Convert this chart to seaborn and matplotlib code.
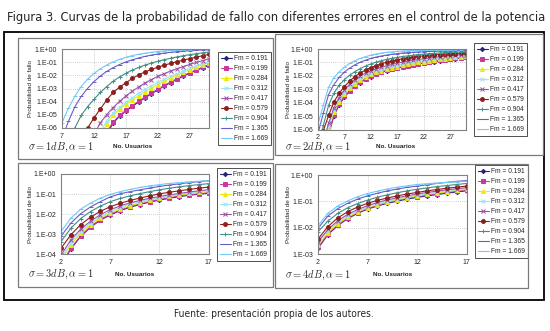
import numpy as np
import pandas as pd
import matplotlib
matplotlib.use("Agg")
import matplotlib.pyplot as plt
import seaborn as sns
from matplotlib.ticker import FixedLocator, FuncFormatter, NullLocator
from matplotlib.patches import Rectangle
from matplotlib.lines import Line2D

# ---------------- data (log10 of outage probability) ----------
fm_labels = ["0.191", "0.199", "0.284", "0.312", "0.417", "0.579", "0.904", "1.365", "1.669"]

x_sigma1 = list(range(7, 31))
logP_sigma1 = [
    [-15.5, -14.5, -13.5, -12, -10.5, -9.1, -7.8, -6.5, -5.62, -5.11, -4.71, -4.36, -4.02, -3.7, -3.4, -3.1, -2.82, -2.55, -2.3, -2.06, -1.84, -1.63, -1.43, -1.25],
    [-15, -14, -13, -11.5, -10, -8.7, -7.5, -6.3, -5.55, -5.05, -4.65, -4.3, -3.97, -3.65, -3.35, -3.05, -2.77, -2.5, -2.25, -2.01, -1.79, -1.58, -1.38, -1.2],
    [-14, -13, -12, -10.5, -9.2, -8, -6.6, -5.7, -5.05, -4.58, -4.2, -3.85, -3.54, -3.24, -2.96, -2.7, -2.45, -2.21, -1.98, -1.77, -1.57, -1.38, -1.2, -1.04],
    [-13.5, -12.5, -11.5, -10, -8.8, -7.6, -6.3, -5.45, -4.85, -4.42, -4.05, -3.7, -3.36, -3.05, -2.78, -2.53, -2.3, -2.08, -1.87, -1.67, -1.48, -1.3, -1.12, -0.95],
    [-12, -11, -10, -8.8, -7.6, -6.5, -5.6, -4.98, -4.45, -3.98, -3.56, -3.2, -2.88, -2.58, -2.32, -2.08, -1.87, -1.68, -1.5, -1.33, -1.17, -1.02, -0.88, -0.75],
    [-10.5, -9.3, -8.1, -7.0, -6.0, -5.24, -4.55, -3.87, -3.3, -2.9, -2.56, -2.24, -1.96, -1.74, -1.55, -1.38, -1.23, -1.09, -0.96, -0.84, -0.73, -0.62, -0.51, -0.41],
    [-8.8, -7.3, -6.0, -5.05, -4.38, -3.82, -3.3, -2.85, -2.45, -2.12, -1.85, -1.6, -1.4, -1.22, -1.07, -0.93, -0.81, -0.7, -0.6, -0.51, -0.43, -0.36, -0.29, -0.23],
    [-6.8, -5.5, -4.4, -3.6, -3.0, -2.48, -2.05, -1.7, -1.42, -1.18, -0.98, -0.82, -0.68, -0.56, -0.46, -0.38, -0.31, -0.25, -0.2, -0.16, -0.12, -0.09, -0.07, -0.05],
    [-5.6, -4.5, -3.6, -2.85, -2.3, -1.86, -1.5, -1.22, -0.98, -0.79, -0.63, -0.5, -0.4, -0.32, -0.25, -0.19, -0.15, -0.11, -0.08, -0.06, -0.04, -0.03, -0.02, -0.01],
]

x_sigma2 = list(range(2, 31))
logP_sigma2 = [
    [-10.3, -8.2, -6.4, -5.0, -4.17, -3.58, -3.14, -2.78, -2.5, -2.26, -2.05, -1.88, -1.74, -1.62, -1.52, -1.43, -1.34, -1.26, -1.19, -1.12, -1.06, -1.0, -0.94, -0.88, -0.82, -0.77, -0.72, -0.67, -0.63],
    [-10, -8, -6.3, -4.95, -4.13, -3.54, -3.1, -2.74, -2.46, -2.22, -2.02, -1.85, -1.71, -1.59, -1.49, -1.4, -1.31, -1.23, -1.16, -1.09, -1.03, -0.97, -0.91, -0.85, -0.79, -0.74, -0.69, -0.64, -0.6],
    [-9.5, -7.5, -5.95, -4.68, -3.92, -3.37, -2.93, -2.58, -2.3, -2.08, -1.9, -1.74, -1.61, -1.5, -1.4, -1.31, -1.22, -1.14, -1.07, -1.0, -0.95, -0.89, -0.83, -0.78, -0.73, -0.68, -0.63, -0.59, -0.55],
    [-9.2, -7.2, -5.75, -4.55, -3.8, -3.25, -2.8, -2.45, -2.18, -1.96, -1.78, -1.63, -1.5, -1.39, -1.29, -1.2, -1.12, -1.05, -0.98, -0.92, -0.87, -0.81, -0.75, -0.7, -0.65, -0.61, -0.57, -0.53, -0.5],
    [-8.8, -6.9, -5.55, -4.38, -3.62, -3.05, -2.62, -2.28, -2.02, -1.8, -1.63, -1.48, -1.36, -1.25, -1.15, -1.06, -0.98, -0.91, -0.84, -0.78, -0.73, -0.68, -0.63, -0.58, -0.54, -0.5, -0.47, -0.44, -0.41],
    [-8.0, -6.1, -4.95, -3.95, -3.3, -2.8, -2.38, -2.05, -1.78, -1.56, -1.38, -1.23, -1.1, -0.98, -0.88, -0.8, -0.73, -0.66, -0.6, -0.55, -0.51, -0.47, -0.44, -0.41, -0.38, -0.36, -0.34, -0.32, -0.3],
    [-7.2, -5.7, -4.2, -3.3, -2.7, -2.28, -1.95, -1.68, -1.46, -1.27, -1.11, -0.98, -0.87, -0.77, -0.69, -0.62, -0.56, -0.51, -0.46, -0.42, -0.38, -0.35, -0.32, -0.3, -0.27, -0.25, -0.23, -0.22, -0.2],
    [-6.3, -4.8, -3.4, -2.66, -2.12, -1.72, -1.42, -1.18, -0.98, -0.83, -0.7, -0.6, -0.52, -0.45, -0.39, -0.34, -0.3, -0.27, -0.24, -0.22, -0.2, -0.18, -0.17, -0.15, -0.14, -0.13, -0.12, -0.11, -0.1],
    [-5.6, -4.2, -2.85, -2.15, -1.7, -1.36, -1.08, -0.87, -0.7, -0.57, -0.46, -0.37, -0.3, -0.25, -0.21, -0.18, -0.15, -0.13, -0.11, -0.1, -0.09, -0.08, -0.07, -0.06, -0.05, -0.05, -0.04, -0.04, -0.03],
]

x_sigma3 = list(range(2, 18))
logP_sigma3 = [
    [-4.55, -3.74, -3.11, -2.65, -2.3, -2.04, -1.83, -1.66, -1.52, -1.4, -1.3, -1.21, -1.13, -1.06, -1.01, -0.96],
    [-4.5, -3.7, -3.08, -2.62, -2.27, -2.01, -1.8, -1.63, -1.49, -1.37, -1.27, -1.18, -1.1, -1.03, -0.98, -0.93],
    [-4.3, -3.53, -2.95, -2.52, -2.19, -1.94, -1.74, -1.58, -1.44, -1.32, -1.21, -1.12, -1.04, -0.97, -0.92, -0.87],
    [-4.2, -3.42, -2.86, -2.45, -2.12, -1.87, -1.67, -1.51, -1.38, -1.27, -1.17, -1.09, -1.01, -0.94, -0.88, -0.83],
    [-4.05, -3.28, -2.75, -2.35, -2.03, -1.78, -1.59, -1.44, -1.32, -1.21, -1.12, -1.04, -0.97, -0.9, -0.84, -0.78],
    [-3.7, -3.03, -2.52, -2.15, -1.86, -1.63, -1.46, -1.32, -1.2, -1.09, -0.99, -0.91, -0.84, -0.77, -0.71, -0.65],
    [-3.37, -2.7, -2.22, -1.87, -1.6, -1.38, -1.22, -1.09, -0.98, -0.88, -0.79, -0.71, -0.64, -0.58, -0.53, -0.48],
    [-3.1, -2.45, -1.98, -1.64, -1.38, -1.14, -0.99, -0.88, -0.79, -0.7, -0.62, -0.55, -0.49, -0.43, -0.38, -0.33],
    [-2.87, -2.2, -1.75, -1.45, -1.2, -1.02, -0.88, -0.77, -0.67, -0.59, -0.53, -0.47, -0.43, -0.39, -0.36, -0.33],
]

x_sigma4 = list(range(2, 18))
logP_sigma4 = [
    [-2.77, -2.26, -1.91, -1.65, -1.45, -1.29, -1.17, -1.07, -0.99, -0.91, -0.85, -0.79, -0.74, -0.69, -0.64, -0.6],
    [-2.74, -2.23, -1.88, -1.62, -1.42, -1.26, -1.14, -1.04, -0.96, -0.88, -0.82, -0.76, -0.71, -0.66, -0.61, -0.57],
    [-2.65, -2.18, -1.84, -1.59, -1.4, -1.24, -1.12, -1.02, -0.93, -0.86, -0.79, -0.73, -0.68, -0.63, -0.58, -0.54],
    [-2.6, -2.12, -1.79, -1.55, -1.36, -1.21, -1.09, -0.99, -0.9, -0.83, -0.76, -0.7, -0.65, -0.6, -0.55, -0.51],
    [-2.52, -2.06, -1.73, -1.49, -1.31, -1.16, -1.04, -0.94, -0.86, -0.79, -0.72, -0.66, -0.61, -0.56, -0.52, -0.48],
    [-2.42, -1.95, -1.62, -1.39, -1.21, -1.07, -0.96, -0.87, -0.79, -0.72, -0.66, -0.6, -0.55, -0.5, -0.46, -0.42],
    [-2.15, -1.74, -1.45, -1.24, -1.08, -0.95, -0.84, -0.75, -0.67, -0.6, -0.54, -0.49, -0.44, -0.4, -0.36, -0.32],
    [-2.02, -1.55, -1.27, -1.07, -0.91, -0.79, -0.69, -0.6, -0.53, -0.47, -0.42, -0.37, -0.32, -0.28, -0.24, -0.21],
    [-1.92, -1.45, -1.17, -0.98, -0.82, -0.7, -0.61, -0.53, -0.46, -0.41, -0.36, -0.33, -0.3, -0.28, -0.26, -0.24],
]

title_text = "Figura 3. Curvas de la probabilidad de fallo con diferentes errores en el control de la potencia"
footer_text = "Fuente: presentación propia de los autores."
ylabel_text = "Probabilidad de fallo"
xlabel_text = "No. Usuarios"
sigma_texts = [r"$\sigma = 1dB,\alpha = 1$", r"$\sigma = 2dB,\alpha = 1$",
               r"$\sigma = 3dB,\alpha = 1$", r"$\sigma = 4dB,\alpha = 1$"]

# ---------------- style ----------------
sns.set_style("white")
plt.rcParams["font.family"] = ["Liberation Sans", "DejaVu Sans"]
plt.rcParams["mathtext.fontset"] = "cm"

colors = ["#23237a", "#c8389e", "#ecec00", "#9fe3f3", "#9a52a6", "#8e1e1e", "#3f8f86", "#6a5cc8", "#6fcaf6"]
markers = ["D", "s", "^", "x", "x", "o", "+", "_", "_"]
msizes = [2.2, 2.6, 2.8, 3.0, 3.0, 2.8, 3.2, 3.2, 3.2]
series_names = ["Fm = " + f for f in fm_labels]

W, H = 550, 331
fig = plt.figure(figsize=(W / 100, H / 100), dpi=100)
fig.patch.set_facecolor("white")


def rect_px(l, t, r, b, **kw):
    fig.add_artist(Rectangle((l / W, 1 - b / H), (r - l) / W, (b - t) / H,
                             transform=fig.transFigure, fill=False, **kw))


# frames
rect_px(4, 32, 544, 300, ec="black", lw=1.3)
rect_px(18, 38, 273, 159, ec="#7a7a7a", lw=0.9)
rect_px(275, 34, 543, 155, ec="#7a7a7a", lw=0.9)
rect_px(18, 163, 273, 287, ec="#7a7a7a", lw=0.9)
rect_px(275, 164, 528, 288, ec="#7a7a7a", lw=0.9)

panels = [
    dict(x=x_sigma1, logp=logP_sigma1, box=(62, 49, 209, 128), xlim=(7, 30), ylo=-6,
         xt=[7, 12, 17, 22, 27], leg=(218, 52), ylab=30, sig=(28, 147), xl=(133, 147)),
    dict(x=x_sigma2, logp=logP_sigma2, box=(318, 49, 466, 129.5), xlim=(2, 30), ylo=-6,
         xt=[2, 7, 12, 17, 22, 27], leg=(474, 43), ylab=288, sig=(285, 147), xl=(396, 147)),
    dict(x=x_sigma3, logp=logP_sigma3, box=(61, 174, 208.5, 254.3), xlim=(2, 17), ylo=-4,
         xt=[2, 7, 12, 17], leg=(217, 168), ylab=30, sig=(28, 274), xl=(135, 274)),
    dict(x=x_sigma4, logp=logP_sigma4, box=(318, 175, 466.5, 254.3), xlim=(2, 17), ylo=-3,
         xt=[2, 7, 12, 17], leg=(475, 165), ylab=288, sig=(285, 275), xl=(393, 275)),
]

for i, p in enumerate(panels):
    l, t, r, b = p["box"]
    ax = fig.add_axes([l / W, 1 - b / H, (r - l) / W, (b - t) / H])
    n = len(p["x"])
    df = pd.DataFrame({
        "x": np.tile(p["x"], len(series_names)),
        "P": 10.0 ** np.concatenate([np.asarray(row, float) for row in p["logp"]]),
        "Fm": np.repeat(series_names, n),
    })
    for k, name in enumerate(series_names):
        sub = df[df["Fm"] == name]
        sns.lineplot(data=sub, x="x", y="P", color=colors[k], marker=markers[k],
                     markersize=msizes[k], markeredgewidth=0.7, markeredgecolor=colors[k],
                     lw=0.8, ax=ax, legend=False, estimator=None, sort=False)
    ax.set_yscale("log")
    ax.set_xlim(*p["xlim"])
    ax.set_ylim(10.0 ** p["ylo"], 1.0)
    ax.set_xlabel("")
    ax.set_ylabel("")
    ax.xaxis.set_major_locator(FixedLocator(p["xt"]))
    ax.yaxis.set_major_locator(FixedLocator([10.0 ** e for e in range(p["ylo"], 1)]))
    ax.yaxis.set_minor_locator(NullLocator())
    ax.xaxis.set_minor_locator(NullLocator())
    ax.yaxis.set_major_formatter(FuncFormatter(lambda v, pos: "1.E%+03d" % int(round(np.log10(v)))))
    ax.grid(True, which="major", color="#bdbdbd", linestyle=(0, (1, 1.5)), lw=0.6)
    for s in ax.spines.values():
        s.set_color("#808080")
        s.set_linewidth(0.8)
    ax.tick_params(axis="both", labelsize=5, length=2, width=0.6, color="#808080",
                   pad=1.5, direction="out")
    ax.set_facecolor("white")

    handles = [Line2D([], [], color=colors[k], marker=markers[k], markersize=msizes[k],
                      markeredgewidth=0.7, markeredgecolor=colors[k], lw=0.8)
               for k in range(len(series_names))]
    lx, ly = p["leg"]
    leg = ax.legend(handles, series_names, loc="upper left",
                    bbox_to_anchor=(lx / W, 1 - ly / H), bbox_transform=fig.transFigure,
                    fontsize=4.8, frameon=True, fancybox=False, edgecolor="black",
                    handlelength=1.6, handletextpad=0.4, labelspacing=0.45,
                    borderpad=0.45, borderaxespad=0)
    leg.get_frame().set_linewidth(0.6)

    fig.text(p["ylab"] / W, 1 - ((t + b) / 2) / H, ylabel_text, rotation=90,
             ha="center", va="center", fontsize=4.6)
    fig.text(p["xl"][0] / W, 1 - p["xl"][1] / H, xlabel_text, ha="center", va="center",
             fontsize=4.6, fontweight="bold")
    fig.text(p["sig"][0] / W, 1 - p["sig"][1] / H, sigma_texts[i], ha="left",
             va="center", fontsize=7.5)

fig.text(276 / W, 1 - 17 / H, title_text, ha="center", va="center", fontsize=9.2,
         family=["Liberation Sans Narrow", "DejaVu Sans"], fontstretch="condensed")
fig.text(274 / W, 1 - 314 / H, footer_text, ha="center", va="center", fontsize=7.3,
         family=["Liberation Sans Narrow", "DejaVu Sans"], fontstretch="condensed")

fig.savefig("out.png", dpi=100, facecolor="white")
